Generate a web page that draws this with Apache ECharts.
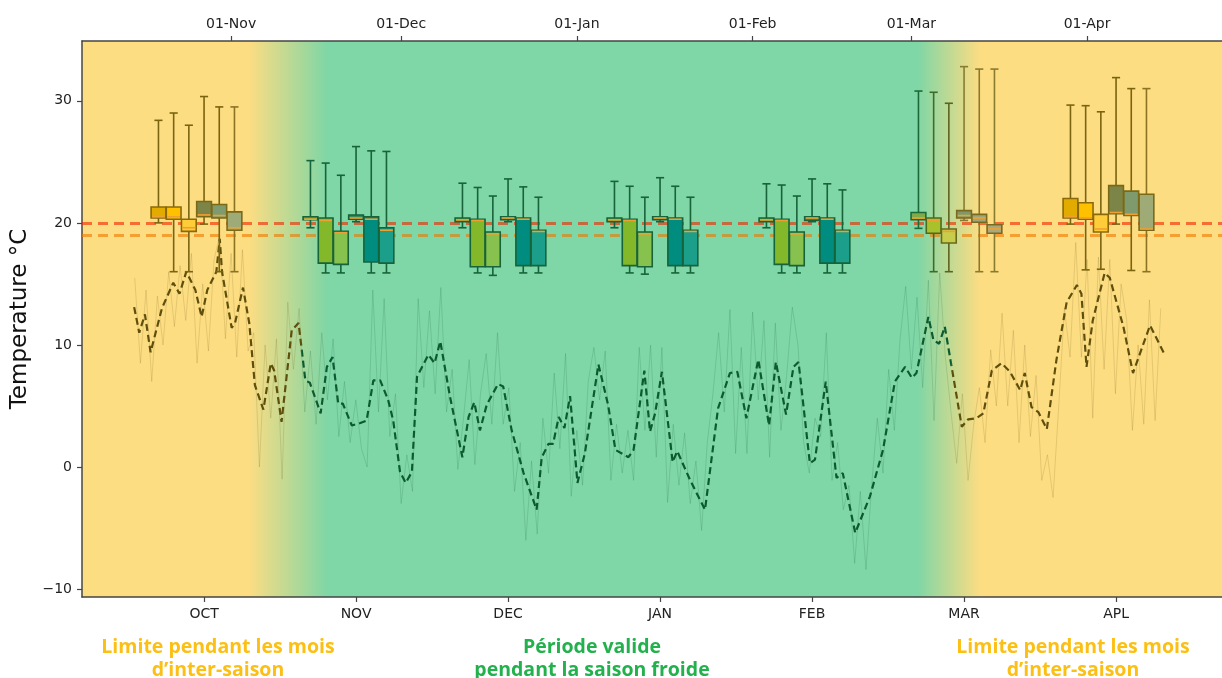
<!DOCTYPE html>
<html><head><meta charset="utf-8">
<script src="https://cdn.jsdelivr.net/npm/echarts@6/dist/echarts.min.js"></script>
<style>html,body{margin:0;padding:0;background:#fff}#c{width:1222px;height:678px}</style>
</head><body><div id="c"></div>
<script>
// ---- categories / tick labels ----
const months = ['OCT','NOV','DEC','JAN','FEB','MAR','APL'];
const monthPos = [0,1,2,3,4,5,6];
const topTickDays = [0,30,61,92,120,151];           // days since 01-Nov
const topTickLabels = ['01-Nov','01-Dec','01-Jan','01-Feb','01-Mar','01-Apr'];
const yTicks = [-10,0,10,20,30];
const thresholds = [20,19];

// ---- box statistics per month: [low, q1, median, q3, high] ----
const boxOffsets = [-0.3,-0.2,-0.1,0,0.1,0.2];
const boxOCT = [[20.0,20.4,20.5,21.3,28.4],[16.0,20.3,20.5,21.3,29.0],[16.0,19.3,19.6,20.3,28.0],[19.9,20.5,20.65,21.75,30.35],[16.0,20.4,20.6,21.5,29.5],[16.0,19.4,19.6,20.9,29.5]];
const boxNOV = [[19.6,20.25,20.3,20.5,25.1],[15.9,16.7,20.2,20.4,24.9],[15.9,16.6,19.2,19.3,23.9],[20.1,20.3,20.4,20.65,26.25],[15.9,16.8,20.3,20.5,25.9],[15.9,16.7,19.4,19.6,25.85]];
const boxDEC = [[19.6,20.1,20.25,20.4,23.25],[15.9,16.4,20.2,20.3,22.9],[15.7,16.4,19.1,19.25,22.2],[20.1,20.25,20.4,20.5,23.6],[15.9,16.5,20.3,20.4,22.95],[15.9,16.5,19.3,19.4,22.1]];
const boxJAN = [[19.6,20.1,20.25,20.4,23.4],[15.9,16.5,20.2,20.3,23.0],[15.8,16.4,19.1,19.25,22.1],[20.1,20.25,20.4,20.5,23.7],[15.9,16.5,20.3,20.4,23.0],[15.9,16.5,19.3,19.4,22.1]];
const boxFEB = [[19.6,20.1,20.25,20.4,23.2],[15.9,16.6,20.2,20.3,23.1],[15.9,16.5,19.1,19.25,22.2],[20.1,20.2,20.4,20.5,23.6],[15.9,16.7,20.3,20.4,23.2],[15.9,16.7,19.3,19.4,22.7]];
const boxMAR = [[19.55,20.25,20.4,20.85,30.8],[16.0,19.15,20.2,20.4,30.7],[16.0,18.35,19.3,19.5,29.8],[20.2,20.4,20.6,21.0,32.8],[16.0,20.05,20.4,20.7,32.6],[16.0,19.15,19.5,19.85,32.6]];
const boxAPL = [[19.9,20.4,20.5,22.0,29.65],[16.15,20.3,20.4,21.65,29.6],[16.2,19.25,19.5,20.7,29.1],[19.9,20.75,20.85,23.05,31.9],[16.1,20.6,20.7,22.6,31.0],[16.0,19.4,19.5,22.35,31.0]];
const boxStats = [boxOCT,boxNOV,boxDEC,boxJAN,boxFEB,boxMAR,boxAPL];

// ---- daily mean temperature (dashed), [day since 01-Nov, °C] ----
const meanLine = [[-17.1,13.1],[-16.2,11.0],[-15.2,12.5],[-14.2,9.4],[-12.2,13.0],[-10.2,15.1],[-9.1,14.2],[-7.9,16.0],[-6.3,14.5],[-5.2,12.3],[-4.2,14.5],[-2.6,16.0],[-2.0,18.7],[-1.6,16.0],[0.1,11.4],[0.7,11.8],[2.1,14.7],[3.2,11.8],[4.2,6.7],[5.7,4.7],[7.0,8.5],[7.6,7.9],[8.9,3.7],[10.7,11.2],[11.9,11.8],[13.1,7.1],[13.9,6.9],[15.8,4.4],[16.9,8.2],[17.9,9.0],[18.9,5.2],[19.7,5.2],[21.3,3.4],[22.8,3.6],[23.9,3.8],[25.1,7.1],[26.3,7.1],[27.7,5.5],[28.6,3.8],[29.8,-0.4],[30.8,-1.3],[31.9,-0.4],[32.8,7.4],[34.8,9.2],[35.9,8.5],[36.9,10.3],[38.6,5.8],[40.8,0.8],[41.9,4.1],[42.9,5.3],[43.9,3.0],[45.1,5.1],[47.1,6.8],[48.0,6.6],[49.5,3.0],[51.6,-0.5],[53.9,-3.5],[54.8,0.8],[56.0,1.9],[56.8,1.9],[57.8,4.1],[58.8,3.2],[59.8,5.8],[61.1,-1.3],[62.4,1.1],[64.8,8.4],[66.5,5.1],[67.8,1.4],[70.1,0.8],[71.0,1.4],[72.9,7.9],[73.9,2.9],[74.8,4.4],[76.0,7.8],[77.9,0.4],[78.7,1.3],[81.0,-1.1],[83.6,-3.5],[85.9,4.8],[88.0,7.7],[89.3,7.8],[90.9,4.0],[93.0,8.8],[94.9,3.4],[96.1,8.6],[97.9,4.3],[99.2,8.2],[100.1,8.6],[102.1,0.3],[103.0,0.6],[104.9,7.0],[106.8,-0.9],[107.9,-0.5],[110.1,-5.4],[112.7,-2.4],[115.0,1.4],[117.1,7.0],[118.9,8.2],[120.1,7.3],[120.9,7.7],[123.0,12.3],[123.9,10.4],[124.9,10.1],[125.9,11.5],[128.9,3.3],[130.0,3.9],[131.5,4.0],[132.7,4.4],[134.2,7.9],[135.9,8.5],[137.4,7.8],[139.2,6.3],[140.0,7.7],[141.2,4.9],[142.4,4.5],[143.9,3.1],[145.6,8.8],[147.4,13.5],[149.2,14.9],[150.0,14.2],[150.9,8.2],[152.0,12.0],[154.1,15.9],[155.0,15.5],[157.4,11.5],[159.1,7.7],[162.1,11.6],[164.7,9.2]];

// ---- faint raw temperature trace, one reading per day from day -17 ----
const rawStartDay = -17;
const rawValues = [15.5,8.5,14.5,7.0,14.0,10.0,16.0,11.5,16.5,12.0,17.5,8.5,15.0,9.5,17.0,19.0,10.5,17.5,9.0,17.8,9.5,11.0,0.0,10.0,4.0,10.5,-1.0,13.5,8.0,13.0,4.5,9.5,3.5,11.0,5.5,10.5,2.5,7.0,2.0,5.5,1.5,0.0,14.5,4.5,13.8,2.5,6.0,-3.0,1.0,-2.0,13.8,6.5,12.8,6.0,14.7,4.5,8.0,-0.2,4.0,8.8,0.2,6.0,9.3,3.5,11.0,3.5,6.5,-2.0,2.0,-6.0,0.5,-5.5,4.0,-0.5,7.7,1.5,9.3,-2.4,3.0,-1.5,7.0,9.8,5.5,9.5,-1.1,3.5,-0.5,3.0,-1.1,9.8,3.0,10.0,0.8,9.8,-2.9,3.5,-1.5,2.8,-3.0,0.5,-5.2,2.0,6.0,11.0,4.5,12.9,1.1,9.8,1.1,12.7,5.5,12.0,0.8,11.8,3.0,7.5,13.1,10.0,2.0,-0.5,4.0,2.5,11.0,-1.1,2.0,-3.5,-1.5,-7.9,-2.0,-8.4,-1.5,4.0,-0.5,8.0,3.0,10.4,14.8,8.0,13.9,6.5,15.3,3.8,15.9,9.0,4.5,0.3,6.0,-1.1,3.5,6.5,2.0,9.6,5.0,12.6,5.0,11.2,2.0,10.0,2.5,7.5,-1.1,1.0,-2.5,5.0,13.0,9.0,18.4,9.0,17.0,4.0,17.2,8.0,17.0,6.0,15.0,12.0,3.0,10.0,3.5,13.7,3.8,13.0];

// ---- styles ----
const palShoulder = [
  {fill:'#e2ab00',edge:'#8a6a08',whisker:'#7a6410'},
  {fill:'#ffc000',edge:'#8a6a08',whisker:'#7a6410'},
  {fill:'#ffcd3a',edge:'#8a6a08',whisker:'#7a6410'},
  {fill:'#7d8447',edge:'#7a6a18',whisker:'#7a6410'},
  {fill:'#7f9b6e',edge:'#7a6a18',whisker:'#7a6410'},
  {fill:'#9eab76',edge:'#7a6a18',whisker:'#8a7424'}];
const palWinter = [
  {fill:'#7aab35',edge:'#17633a',whisker:'#17633a'},
  {fill:'#84b82b',edge:'#17633a',whisker:'#17633a'},
  {fill:'#88c24e',edge:'#17633a',whisker:'#17633a'},
  {fill:'#3a8a55',edge:'#17633a',whisker:'#17633a'},
  {fill:'#008c7e',edge:'#17633a',whisker:'#17633a'},
  {fill:'#1b9e8a',edge:'#17633a',whisker:'#17633a'}];
const palMar = [
  {fill:'#7eaa48',edge:'#1e6a36',whisker:'#1e6a36'},
  {fill:'#a9c22c',edge:'#4f6a1e',whisker:'#3f6a2a'},
  {fill:'#c8cc4c',edge:'#6a6a1a',whisker:'#5a6420'},
  {fill:'#7e9a6c',edge:'#7a6a20',whisker:'#8a7a30'},
  {fill:'#9fa679',edge:'#7a6a20',whisker:'#8a7a30'},
  {fill:'#aaa97e',edge:'#7a6a20',whisker:'#8a7a30'}];
const monthPalettes = [palShoulder,palWinter,palWinter,palWinter,palWinter,palMar,palShoulder];

const boxData = [], boxStyles = [];
boxStats.forEach((arr, m) => arr.forEach((s, k) => {
  boxData.push([monthPos[m] + boxOffsets[k]].concat(s));
  boxStyles.push(monthPalettes[m][k]);
}));

const YEL = '#fddd82', GRN = '#7fd6a6', OLIVE = '#5f4f0c', DGREEN = '#0c5a30';

const chart = echarts.init(document.getElementById('c'), null, {renderer:'canvas'});
const axisLineStyle = {color:'#444', width:1.5};
chart.setOption({
  animation:false,
  grid:{left:82, right:0, top:41, bottom:81, show:true, borderWidth:0,
    backgroundColor:{type:'linear', x:0, y:0, x2:1, y2:0, colorStops:[
      {offset:0, color:YEL},{offset:0.146, color:YEL},{offset:0.215, color:GRN},
      {offset:0.733, color:GRN},{offset:0.788, color:YEL},{offset:1, color:YEL}]}},
  xAxis:[
    {type:'value', position:'bottom', min:-0.803, max:6.697,
     axisLine:{show:true, onZero:false, lineStyle:axisLineStyle},
     axisTick:{show:true, customValues:monthPos, length:5, lineStyle:{color:'#444', width:1.2}},
     axisLabel:{customValues:monthPos, formatter:v => months[Math.round(v)], fontFamily:'DejaVu Sans', fontSize:14, color:'#222', margin:10},
     splitLine:{show:false}},
    {type:'value', position:'top', min:-26.3, max:174.8,
     axisLine:{show:true, onZero:false, lineStyle:axisLineStyle},
     axisTick:{show:true, customValues:topTickDays, length:5, lineStyle:{color:'#444', width:1.2}},
     axisLabel:{customValues:topTickDays, formatter:v => topTickLabels[topTickDays.indexOf(v)], fontFamily:'DejaVu Sans', fontSize:14, color:'#222', margin:10},
     splitLine:{show:false}}
  ],
  yAxis:{type:'value', min:-10.65, max:34.9,
     name:'Temperature °C', nameLocation:'middle', nameGap:44, nameRotate:90,
     nameTextStyle:{fontFamily:'DejaVu Sans', fontSize:23, color:'#111'},
     axisLine:{show:true, onZero:false, lineStyle:axisLineStyle},
     axisTick:{show:true, customValues:yTicks, length:5, lineStyle:{color:'#444', width:1.2}},
     axisLabel:{customValues:yTicks, formatter:v => (v < 0 ? '\u2212' + Math.abs(v) : String(v)), fontFamily:'DejaVu Sans', fontSize:14, color:'#222', margin:10},
     splitLine:{show:false}},
  visualMap:{type:'piecewise', show:false, dimension:0, seriesIndex:[0,1],
     pieces:[{lt:12.5, color:OLIVE},{gte:12.5, lt:127, color:DGREEN},{gte:127, color:OLIVE}]},
  series:[
    {type:'line', xAxisIndex:1, yAxisIndex:0, z:2, silent:true, showSymbol:false, symbol:'none',
     data: rawValues.map((v,i) => [rawStartDay + i, v]),
     lineStyle:{width:1, opacity:0.16}},
    {type:'line', xAxisIndex:1, yAxisIndex:0, z:3, silent:true, showSymbol:false, symbol:'none',
     data: meanLine, lineStyle:{width:2.2, type:[7,4]}},
    {type:'line', xAxisIndex:1, yAxisIndex:0, z:4, silent:true, data:[],
     markLine:{silent:true, symbol:'none', label:{show:false},
       data:[{yAxis:thresholds[0], lineStyle:{color:'#f02800', opacity:0.62, width:2.8, type:[10,6]}},
             {yAxis:thresholds[1], lineStyle:{color:'#f07800', opacity:0.62, width:2.8, type:[10,6]}}]}},
    {type:'custom', xAxisIndex:0, yAxisIndex:0, z:5, silent:true,
     dimensions:['pos','low','q1','med','q3','high'],
     encode:{x:0, y:[1,2,3,4,5]},
     data: boxData,
     renderItem:function(params, api){
       const x = api.value(0);
       const st = boxStyles[params.dataIndex];
       const lo = api.coord([x, api.value(1)]), q1 = api.coord([x, api.value(2)]),
             md = api.coord([x, api.value(3)]), q3 = api.coord([x, api.value(4)]),
             hi = api.coord([x, api.value(5)]);
       const w = api.size([0.1, 0])[0] * 0.97;
       const cx = lo[0], cap = w * 0.55;
       const ws = {stroke:st.whisker, lineWidth:1.6, fill:null};
       return {type:'group', children:[
         {type:'line', shape:{x1:cx, y1:hi[1], x2:cx, y2:q3[1]}, style:ws},
         {type:'line', shape:{x1:cx, y1:q1[1], x2:cx, y2:lo[1]}, style:ws},
         {type:'line', shape:{x1:cx-cap/2, y1:hi[1], x2:cx+cap/2, y2:hi[1]}, style:ws},
         {type:'line', shape:{x1:cx-cap/2, y1:lo[1], x2:cx+cap/2, y2:lo[1]}, style:ws},
         {type:'rect', shape:{x:cx-w/2, y:q3[1], width:w, height:q1[1]-q3[1]}, style:{fill:st.fill, stroke:st.edge, lineWidth:1.6}},
         {type:'line', shape:{x1:cx-w/2+1, y1:md[1], x2:cx+w/2-1, y2:md[1]}, style:{stroke:'#f0a030', lineWidth:1.6}}
       ]};
     }}
  ],
  graphic:[
    {type:'text', x:218, y:659, style:{text:'Limite pendant les mois\nd\u2019inter-saison', textAlign:'center', textVerticalAlign:'middle', fill:'#fcbf14', font:'bold 19.5px "Open Sans"', lineHeight:23}},
    {type:'text', x:592, y:659, style:{text:'Période valide\npendant la saison froide', textAlign:'center', textVerticalAlign:'middle', fill:'#22b14c', font:'bold 19.5px "Open Sans"', lineHeight:23}},
    {type:'text', x:1073, y:659, style:{text:'Limite pendant les mois\nd\u2019inter-saison', textAlign:'center', textVerticalAlign:'middle', fill:'#fcbf14', font:'bold 19.5px "Open Sans"', lineHeight:23}}
  ]
});
</script></body></html>
